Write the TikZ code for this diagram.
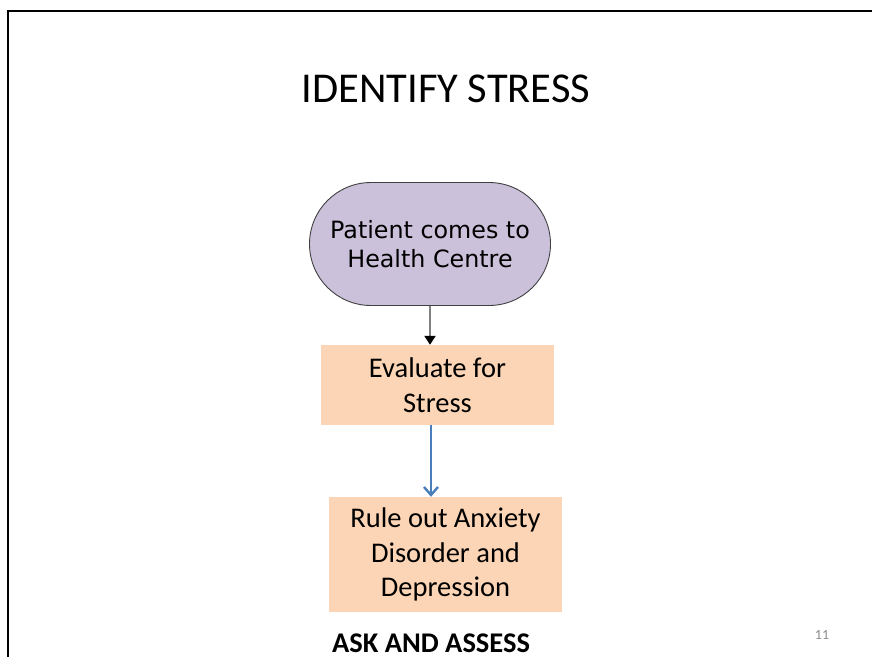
\documentclass[tikz,border=0pt]{standalone}
\usepackage{fontspec}
\setmainfont{Carlito}
\newfontfamily\verdanaish{DejaVu Sans}
\usetikzlibrary{shapes.misc,arrows.meta}
\definecolor{lavfill}{HTML}{CCC1DA}
\definecolor{peach}{HTML}{FBD5B5}
\definecolor{arrowblue}{HTML}{4A7EBB}
\definecolor{pagegray}{HTML}{8C8C8C}
\tikzset{
  terminal/.style={rounded rectangle, draw=black!75, line width=0.9pt, fill=lavfill,
    minimum width=241pt, minimum height=123pt, inner sep=0pt, align=center,
    font=\verdanaish\fontsize{23.8}{29.5}\selectfont},
  procbox/.style={rectangle, fill=peach, inner sep=0pt, align=center,
    minimum width=233pt, font=\fontsize{28.5}{34.5}\selectfont},
  grayarrow/.style={draw=black!50, line width=2pt, -{Triangle[length=9pt,width=11pt,color=black]}},
  bluearrow/.style={draw=arrowblue, line width=2.4pt, -{Straight Barb[length=8pt,width=14pt]}}
}
\begin{document}
\begin{tikzpicture}[x=1pt,y=-1pt]
\useasboundingbox (0,0) rectangle (872,656);
\draw[line width=2.2pt] (8,670) -- (8,11) -- (885,11);
\node[anchor=base, font=\fontsize{42.5}{50}\selectfont] (title) at (446,102) {IDENTIFY STRESS};
\node[terminal] (t) at (430,244) {Patient comes to\\Health Centre};
\node[procbox, minimum height=80pt] (e) at (437.5,385) {Evaluate for\\Stress};
\node[procbox, minimum height=115pt] (r) at (445.5,554.5) {Rule out Anxiety\\Disorder and\\Depression};
\draw[grayarrow] (t.south) -- (t.south |- e.north);
\draw[bluearrow] ([xshift=1pt]t.south |- e.south) -- ([xshift=1pt]t.south |- r.north);
\node[anchor=base, font=\bfseries\fontsize{28.5}{34}\selectfont] (ask) at (431,652) {ASK AND ASSESS};
\node[anchor=base, text=pagegray, font=\fontsize{14}{16}\selectfont] (pg) at (822,639) {11};
\end{tikzpicture}
\end{document}
